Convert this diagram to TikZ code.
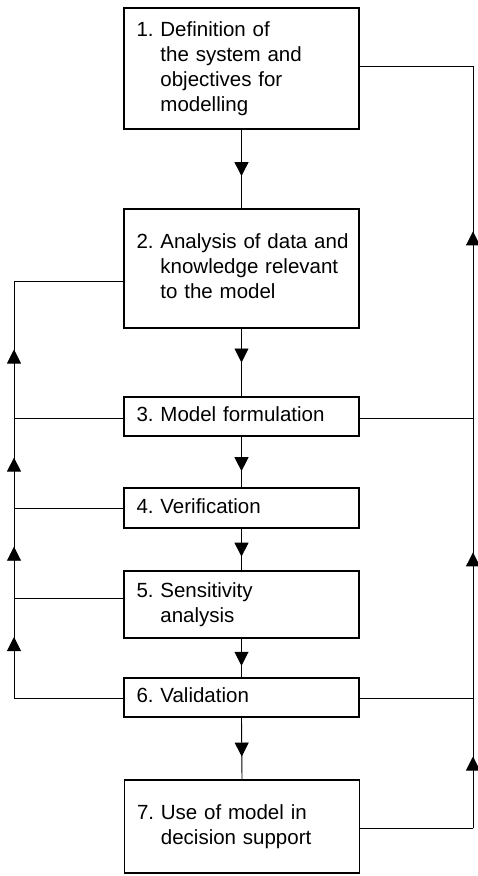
\documentclass[tikz,border=0pt]{standalone}
\usepackage{fontspec}
\setmainfont{Liberation Sans}
\usetikzlibrary{arrows.meta,decorations.markings}
\newcommand\stagefont{\fontsize{20.5}{25}\selectfont}
\newcommand\stage[2]{\begin{tabular}{@{}l@{\ }l@{}}#1&#2\end{tabular}}
\tikzset{box/.style={draw,line width=1.1pt,text width=210pt,inner xsep=12.5pt,inner ysep=0pt,align=left,font=\stagefont},
 wire/.style={line width=.9pt,line cap=rect},
 arr/.style={postaction={decorate},decoration={markings,mark=at position #1 with {\arrow{Triangle[length=14pt,width=14pt]}}}}}
\begin{document}
\begin{tikzpicture}[x=1pt,y=-1pt]
\useasboundingbox (0,0) rectangle (477,876);
\node[box,minimum height=121pt] (b1) at (241.5,68.5) {\stage{1.}{Definition of\\&the system and\\&objectives for\\&modelling}};
\node[box,minimum height=119pt] (b2) at (241.5,268.5) {\stage{2.}{Analysis of data and\\&knowledge relevant\\&to the model}};
\node[box,minimum height=39pt] (b3) at (241.5,416.5) {\stage{3.}{Model formulation}};
\node[box,minimum height=40pt] (b4) at (241.5,508) {\stage{4.}{Verification}};
\node[box,minimum height=67pt] (b5) at (241.5,604.5) {\stage{5.}{Sensitivity\\&analysis}};
\node[box,minimum height=39pt] (b6) at (241.5,697.5) {\stage{6.}{Validation}};
\node[box,minimum height=93pt] (b7) at (242,826.5) {\stage{7.}{Use of model in\\&decision support}};
% main chain
\foreach \a/\b/\p in {1/2/.59,2/3/.5,3/4/.68,4/5/.67,5/6/.7,6/7/.63}
 \draw[wire,arr=\p] (b\a.south) -- (b\b.north);
% left loop back to stage 2
\coordinate (l2) at (14,281);\coordinate (l3) at (14,418);\coordinate (l4) at (14,508);
\coordinate (l5) at (14,598);\coordinate (l6) at (14,698);
\foreach \n in {2,...,6} \draw[wire] (b\n.west |- l\n) -- (l\n);
\foreach \a/\b/\p in {6/5/.61,5/4/.57,4/3/.56,3/2/.5} \draw[wire,arr=\p] (l\a) -- (l\b);
% right loop back to stage 1
\coordinate (r1) at (473,66);\coordinate (r3) at (473,418);
\coordinate (r6) at (473,698);\coordinate (r7) at (473,828);
\foreach \n in {1,3,6,7} \draw[wire] (b\n.east |- r\n) -- (r\n);
\foreach \a/\b/\p in {7/6/.55,6/3/.52,3/1/.53} \draw[wire,arr=\p] (r\a) -- (r\b);
\end{tikzpicture}
\end{document}
